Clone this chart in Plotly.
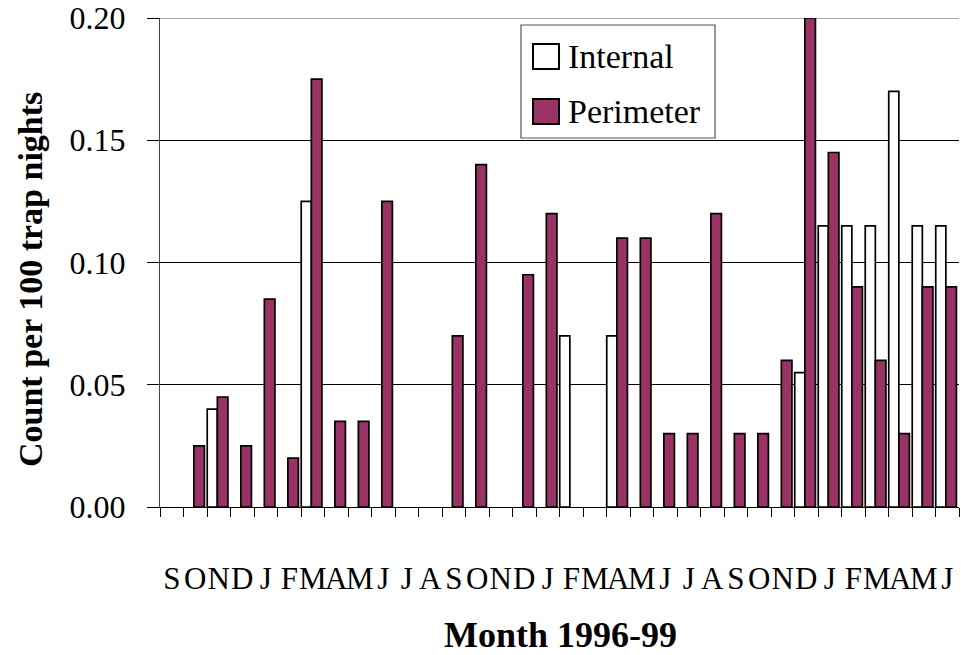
import plotly.graph_objects as go

# Months Sep 1996 .. Jun 1999
month_labels = ["S", "O", "N", "D",
                "J", "F", "M", "A", "M", "J", "J", "A", "S", "O", "N", "D",
                "J", "F", "M", "A", "M", "J", "J", "A", "S", "O", "N", "D",
                "J", "F", "M", "A", "M", "J"]
month_index = list(range(1, len(month_labels) + 1))

internal = [None, None, 0.04, None,
            None, None, 0.125, None, None, None, None, None, None, None, None, None,
            None, 0.07, None, 0.07, None, None, None, None, None, None, None, 0.055,
            0.115, 0.115, 0.115, 0.17, 0.115, 0.115]

perimeter = [None, 0.025, 0.045, 0.025,
             0.085, 0.02, 0.175, 0.035, 0.035, 0.125, None, None, 0.07, 0.14, None, 0.095,
             0.12, None, None, 0.11, 0.11, 0.03, 0.03, 0.12, 0.03, 0.03, 0.06, 0.20,
             0.145, 0.09, 0.06, 0.03, 0.09, 0.09]

y_ticks = [0.0, 0.05, 0.10, 0.15, 0.20]
y_tick_text = ["0.00", "0.05", "0.10", "0.15", "0.20"]

FONT = "Liberation Serif"
PLUM = "#993366"

W, H = 961, 655
# plot area in screenshot pixels: x 160..959, y 18..507
ML, MR, MT, MB = 160, W - 959, 18, H - 507
PW, PH = W - ML - MR, H - MT - MB


def px_x(x):
    return (x - ML) / PW


def px_y(y):
    return (H - MB - y) / PH


fig = go.Figure()
fig.add_trace(go.Bar(
    x=month_index, y=internal, name="Internal",
    marker=dict(color="white", line=dict(color="black", width=1.7)),
    width=0.43, offset=-0.49, showlegend=False))
fig.add_trace(go.Bar(
    x=month_index, y=perimeter, name="Perimeter",
    marker=dict(color=PLUM, line=dict(color="black", width=1.7)),
    width=0.45, offset=-0.06, showlegend=False))

fig.update_layout(
    width=W, height=H,
    margin=dict(l=ML, r=MR, t=MT, b=MB, pad=0, autoexpand=False),
    paper_bgcolor="white", plot_bgcolor="white",
    font=dict(family=FONT, color="black"),
    barmode="overlay",
    xaxis=dict(
        range=[0.5, len(month_labels) + 0.5],
        tickmode="array", tickvals=month_index, ticktext=month_labels,
        tickangle=0,
        ticks="", showgrid=False, zeroline=False,
        showline=True, linecolor="black", linewidth=1.2,
        tickfont=dict(size=31, family=FONT),
        ticklabelstandoff=44,
        minor=dict(tickmode="array",
                   tickvals=[i + 0.5 for i in range(len(month_labels) + 1)],
                   ticks="outside", ticklen=9, tickcolor="black", tickwidth=1,
                   showgrid=False),
    ),
    yaxis=dict(
        range=[0, 0.2],
        tickmode="array", tickvals=y_ticks, ticktext=y_tick_text,
        ticks="outside", ticklen=12, tickcolor="black", tickwidth=1,
        showgrid=True, gridcolor="black", gridwidth=1,
        zeroline=False,
        showline=True, linecolor="#444", linewidth=1.2,
        tickfont=dict(size=32, family=FONT),
        ticklabelstandoff=15,
        ticklabeloverflow="allow",
    ),
    annotations=[
        dict(text="<b>Month 1996-99</b>", xref="paper", yref="paper",
             x=px_x(560), y=px_y(635), xanchor="center", yanchor="middle",
             showarrow=False, font=dict(size=36, family=FONT)),
        dict(text="<b>Count per 100 trap nights</b>", xref="paper", yref="paper",
             x=px_x(30), y=px_y(280), xanchor="center", yanchor="middle",
             textangle=-90, showarrow=False, font=dict(size=34, family=FONT)),
        dict(text="Internal", xref="paper", yref="paper",
             x=px_x(566), y=px_y(57), xanchor="left", yanchor="middle",
             showarrow=False, font=dict(size=34, family=FONT)),
        dict(text="Perimeter", xref="paper", yref="paper",
             x=px_x(566), y=px_y(112), xanchor="left", yanchor="middle",
             showarrow=False, font=dict(size=34, family=FONT)),
    ],
    shapes=[
        dict(type="line", xref="paper", yref="y",
             x0=0, x1=1, y0=0.2, y1=0.2,
             line=dict(color="#555", width=1.2), layer="below"),
        dict(type="rect", xref="paper", yref="paper",
             x0=px_x(521), x1=px_x(715), y0=px_y(138), y1=px_y(25),
             line=dict(color="#555", width=1.2), fillcolor="white", layer="above"),
        dict(type="rect", xref="paper", yref="paper",
             x0=px_x(533), x1=px_x(559), y0=px_y(69), y1=px_y(44),
             line=dict(color="black", width=2), fillcolor="white", layer="above"),
        dict(type="rect", xref="paper", yref="paper",
             x0=px_x(533), x1=px_x(559), y0=px_y(124), y1=px_y(99),
             line=dict(color="black", width=2), fillcolor=PLUM, layer="above"),
    ],
)

fig.write_html(
    "out.html",
    config={"displayModeBar": False},
    post_script="document.body.style.margin='0';document.body.style.overflow='hidden';",
)
